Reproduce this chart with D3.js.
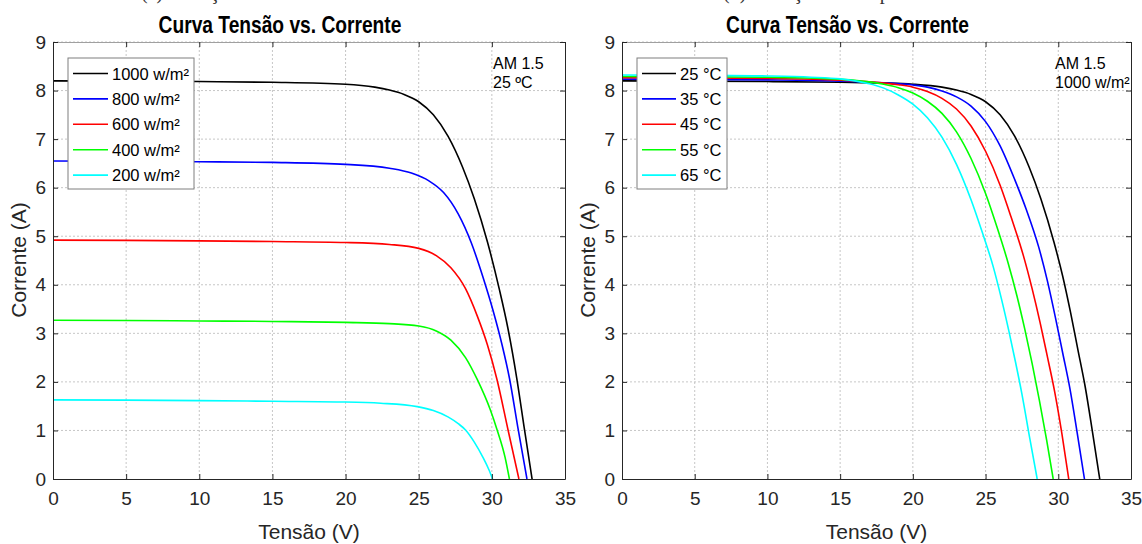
<!DOCTYPE html>
<html>
<head>
<meta charset="utf-8">
<script src="https://cdn.jsdelivr.net/npm/d3@7"></script>
<style>
body { margin: 0; background: #fff; }
text { font-family: "Liberation Sans", Arial, sans-serif; }
</style>
</head>
<body>
<div id="chart"></div>
<script>
var svgWidth = 1142;
var svgHeight = 544;

var xTicks = [0, 5, 10, 15, 20, 25, 30, 35];
var yTicks = [0, 1, 2, 3, 4, 5, 6, 7, 8, 9];
var lineColors = ['#000000', '#0000ff', '#ff0000', '#00ff00', '#00ffff'];

// (a) irradiance, 25 C
var irrLabels = ['1000 w/m²', '800 w/m²', '600 w/m²', '400 w/m²', '200 w/m²'];
var irr1000 = [[0,8.20],[5,8.195],[10,8.185],[15,8.17],[20,8.13],[22,8.07],[23,8.01],[24,7.92],[25,7.77],[26,7.5],[27,7.06],[28,6.42],[28.8,5.77],[29.7,4.88],[30.5,3.92],[31.1,3.1],[31.7,2.08],[32.2,1.08],[32.75,0]];
var irr800 = [[0,6.55],[5,6.545],[10,6.535],[15,6.52],[20,6.48],[23,6.4],[24.5,6.3],[25.7,6.14],[26.7,5.9],[27.7,5.46],[28.6,4.86],[29.4,4.15],[30.1,3.45],[30.7,2.76],[31.2,2.08],[31.8,1.02],[32.4,0]];
var irr600 = [[0,4.92],[5,4.915],[10,4.905],[15,4.89],[20,4.87],[23,4.83],[25,4.75],[26.2,4.6],[27.2,4.35],[28.2,3.92],[29,3.36],[29.7,2.76],[30.35,2.05],[31.1,1.02],[31.85,0]];
var irr400 = [[0,3.27],[5,3.265],[10,3.255],[15,3.245],[20,3.225],[23,3.2],[25,3.15],[26.2,3.05],[27.2,2.86],[28.2,2.5],[29,2.05],[29.9,1.42],[30.35,1.02],[30.9,0.45],[31.2,0]];
var irr200 = [[0,1.63],[5,1.625],[10,1.615],[15,1.6],[20,1.585],[22.4,1.56],[24.9,1.49],[26,1.41],[27,1.28],[27.7,1.14],[28.2,1.01],[28.8,0.76],[29.4,0.44],[29.8,0.19],[30.05,0]];

// (b) temperature, 1000 w/m2
var tempLabels = ['25 °C', '35 °C', '45 °C', '55 °C', '65 °C'];
var temp25 = [[0,8.2],[5,8.195],[10,8.185],[15,8.17],[18,8.155],[20,8.13],[22,8.07],[23,8.01],[24,7.92],[25,7.77],[26,7.5],[27,7.06],[28,6.42],[28.8,5.77],[29.7,4.88],[30.3,4.18],[30.85,3.42],[31.35,2.66],[31.85,1.9],[32.35,0.97],[32.85,0]];
var temp35 = [[0,8.235],[5,8.23],[10,8.22],[15,8.195],[18,8.16],[20,8.115],[21,8.07],[22,7.99],[23,7.87],[24,7.68],[25,7.36],[26,6.86],[27,6.17],[27.8,5.55],[28.65,4.78],[29.25,4.08],[29.8,3.33],[30.3,2.6],[30.8,1.86],[31.3,0.95],[31.8,0]];
var temp45 = [[0,8.265],[5,8.26],[10,8.25],[15,8.215],[17,8.18],[19,8.12],[20,8.07],[21,7.98],[22,7.84],[23,7.62],[24,7.27],[25,6.75],[26,6.05],[26.75,5.4],[27.6,4.6],[28.2,3.92],[28.75,3.22],[29.25,2.52],[29.75,1.8],[30.25,0.93],[30.72,0]];
var temp55 = [[0,8.29],[5,8.285],[10,8.275],[14,8.245],[16,8.21],[18,8.13],[19,8.06],[20,7.95],[21,7.78],[22,7.53],[23,7.15],[24,6.6],[25,5.88],[25.75,5.22],[26.55,4.45],[27.15,3.78],[27.7,3.08],[28.2,2.38],[28.7,1.62],[29.2,0.8],[29.65,0]];
var temp65 = [[0,8.32],[5,8.315],[10,8.3],[13,8.275],[15,8.24],[16,8.2],[17,8.14],[18,8.05],[19,7.91],[20,7.72],[21,7.44],[22,7.04],[23,6.48],[24,5.75],[24.75,5.1],[25.5,4.4],[26.1,3.7],[26.6,3.05],[27.05,2.42],[27.5,1.75],[28.05,0.82],[28.55,0]];

var svg = d3.select('#chart')
    .append('svg')
    .attr('width', svgWidth)
    .attr('height', svgHeight);

function drawPanel(p) {
    var xScale = d3.scaleLinear().domain([0, 35]).range([p.left, p.right]);
    var yScale = d3.scaleLinear().domain([0, 9]).range([479, 42]);
    var g = svg.append('g');

    // caption above the plot, cut by the top edge as in the original
    g.append('text')
        .attr('x', p.captionX)
        .attr('y', -1)
        .style('font-family', '"Liberation Serif", serif')
        .attr('font-size', 20)
        .attr('fill', '#333')
        .text(p.caption);

    g.append('clipPath').attr('id', p.id + '-clip')
        .append('rect')
        .attr('x', p.left).attr('y', 42)
        .attr('width', p.right - p.left).attr('height', 437);

    // grid
    g.append('g').selectAll('line').data(xTicks.slice(1, -1)).enter().append('line')
        .attr('x1', d => xScale(d)).attr('x2', d => xScale(d))
        .attr('y1', 42).attr('y2', 479)
        .attr('stroke', '#b8b8b8').attr('stroke-width', 0.8).attr('stroke-dasharray', '2,2');
    g.append('g').selectAll('line').data(yTicks.slice(1)).enter().append('line')
        .attr('y1', d => yScale(d)).attr('y2', d => yScale(d))
        .attr('x1', p.left).attr('x2', p.right)
        .attr('stroke', '#b8b8b8').attr('stroke-width', 0.8).attr('stroke-dasharray', '2,2');

    // curves
    var line = d3.line()
        .x(d => xScale(d[0]))
        .y(d => yScale(d[1]))
        .curve(d3.curveMonotoneX);
    g.append('g').attr('clip-path', 'url(#' + p.id + '-clip)')
        .selectAll('path').data(p.series).enter().append('path')
        .attr('d', d => line(d))
        .attr('fill', 'none')
        .attr('stroke', (d, i) => lineColors[i])
        .attr('stroke-width', 1.6);

    // axes with inward ticks
    var bottom = g.append('g')
        .attr('transform', 'translate(0,479)')
        .call(d3.axisBottom(xScale).tickValues(xTicks).tickSizeInner(-5).tickSizeOuter(0).tickPadding(13));
    var top = g.append('g')
        .attr('transform', 'translate(0,42)')
        .call(d3.axisTop(xScale).tickValues(xTicks).tickSizeInner(-5).tickSizeOuter(0).tickFormat(''));
    var left = g.append('g')
        .attr('transform', `translate(${p.left},0)`)
        .call(d3.axisLeft(yScale).tickValues(yTicks).tickSizeInner(-5).tickSizeOuter(0).tickPadding(7));
    var right = g.append('g')
        .attr('transform', `translate(${p.right},0)`)
        .call(d3.axisRight(yScale).tickValues(yTicks).tickSizeInner(-5).tickSizeOuter(0).tickFormat(''));

    [bottom, top, left, right].forEach(function(a) {
        a.select('.domain').attr('stroke', '#262626');
        a.selectAll('.tick line').attr('stroke', '#262626');
        a.selectAll('.tick text')
            .attr('font-size', 19)
            .attr('fill', '#262626')
            .style('font-family', '"Liberation Sans", Arial, sans-serif');
    });
    top.select('.domain').attr('stroke', '#a0a0a0');

    // titles
    g.append('text')
        .attr('transform', `translate(${(p.left + p.right) / 2 - 29}, 33) scale(0.8,1)`)
        .attr('text-anchor', 'middle')
        .attr('font-size', 24)
        .attr('font-weight', 'bold')
        .attr('fill', '#000')
        .text('Curva Tensão vs. Corrente');

    g.append('text')
        .attr('x', (p.left + p.right) / 2)
        .attr('y', 539)
        .attr('text-anchor', 'middle')
        .attr('font-size', 21)
        .attr('fill', '#262626')
        .text('Tensão (V)');

    g.append('text')
        .attr('transform', `translate(${p.left - 27}, 260) rotate(-90)`)
        .attr('text-anchor', 'middle')
        .attr('font-size', 21)
        .attr('fill', '#262626')
        .text('Corrente (A)');

    // annotation
    g.selectAll('.note').data(p.note).enter().append('text')
        .attr('class', 'note')
        .attr('x', p.noteX)
        .attr('y', (d, i) => 69 + 19 * i)
        .attr('font-size', 16)
        .attr('fill', '#000')
        .text(d => d);

    // legend
    var legend = g.append('g').attr('transform', `translate(${p.legendX}, 58)`);
    legend.append('rect')
        .attr('width', p.legendW).attr('height', 131)
        .attr('fill', '#fff').attr('stroke', '#7f7f7f').attr('stroke-width', 1);
    var rows = legend.selectAll('.row').data(p.labels).enter().append('g')
        .attr('transform', (d, i) => `translate(0, ${15.5 + 25.4 * i})`);
    rows.append('line')
        .attr('x1', 5).attr('x2', p.legendLine)
        .attr('stroke', (d, i) => lineColors[i])
        .attr('stroke-width', 1.6);
    rows.append('text')
        .attr('x', p.legendLine + 4)
        .attr('y', 6)
        .attr('font-size', 16.5)
        .attr('fill', '#000')
        .text(d => d);
}

drawPanel({
    id: 'irr', left: 53, right: 565,
    caption: '(a) Variação da irradiância', captionX: 141,
    series: [irr1000, irr800, irr600, irr400, irr200],
    labels: irrLabels,
    note: ['AM 1.5', '25 ºC'], noteX: 493,
    legendX: 68, legendW: 126, legendLine: 40
});

drawPanel({
    id: 'temp', left: 622, right: 1131,
    caption: '(b) Variação da temperatura', captionX: 723,
    series: [temp25, temp35, temp45, temp55, temp65],
    labels: tempLabels,
    note: ['AM 1.5', '1000 w/m²'], noteX: 1055,
    legendX: 637, legendW: 90, legendLine: 39
});
</script>
</body>
</html>
